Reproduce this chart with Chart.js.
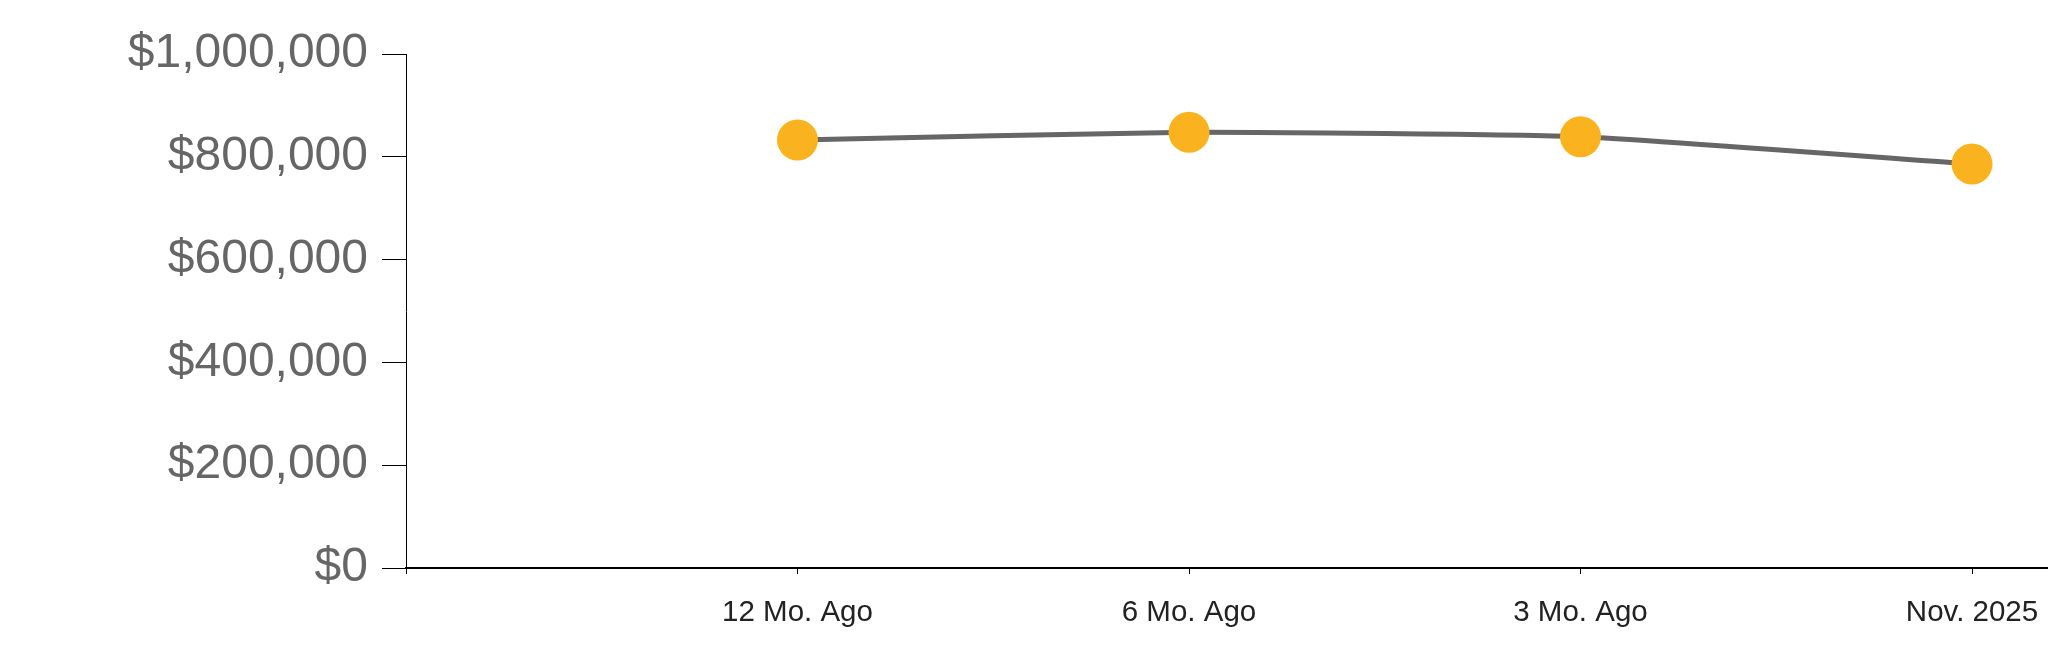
<!DOCTYPE html>
<html>
<head>
<meta charset="utf-8">
<script src="https://cdn.jsdelivr.net/npm/chart.js@4/dist/chart.umd.min.js"></script>
<style>
  html, body { margin: 0; padding: 0; background: #fff; overflow: hidden; }
  #wrap { width: 2048px; height: 663px; }
</style>
</head>
<body>
<div id="wrap"><canvas id="chart" width="2048" height="663"></canvas></div>
<script>
// categories (first slot is the empty one sitting on the y axis)
const categories = ['', '12 Mo. Ago', '6 Mo. Ago', '3 Mo. Ago', 'Nov. 2025'];
const values = [null, 832700, 847700, 839100, 786000];
const yTicks = [0, 200000, 400000, 600000, 800000, 1000000];

const points = values.map((v, i) => ({ x: i, y: v }));

const ctx = document.getElementById('chart').getContext('2d');
new Chart(ctx, {
    type: 'line',
    data: {
        datasets: [{
            data: points,
            borderColor: '#666666',
            borderWidth: 5,
            tension: 0.15,
            pointRadius: 20.5,
            pointHoverRadius: 20.5,
            pointBackgroundColor: '#FAB31E',
            pointBorderWidth: 0,
            spanGaps: false,
            clip: false
        }]
    },
    options: {
        responsive: false,
        animation: false,
        layout: { autoPadding: false, padding: { top: 54, right: 0, bottom: 0, left: 0 } },
        plugins: {
            legend: { display: false },
            tooltip: { enabled: false }
        },
        scales: {
            x: {
                type: 'linear',
                min: 0,
                max: 4 + 76 / 391.5,
                border: { color: '#000', width: 2 },
                grid: { drawOnChartArea: false, drawTicks: true, tickLength: 6, color: '#000' },
                ticks: {
                    stepSize: 1,
                    includeBounds: false,
                    padding: 21,
                    color: '#222',
                    font: { family: 'Liberation Sans, Arial', size: 29.5 },
                    maxRotation: 0,
                    autoSkip: false,
                    callback: (v) => Number.isInteger(v) ? (categories[v] || '') : ''
                },
                afterFit: (s) => { s.height = 95; s.paddingLeft = 0; s.paddingRight = 0; }
            },
            y: {
                min: 0,
                max: 1000000,
                border: { color: '#000', width: 1 },
                grid: { drawOnChartArea: false, drawTicks: true, tickLength: 24, color: '#000' },
                afterBuildTicks: (s) => { s.ticks = yTicks.map(v => ({ value: v })); },
                ticks: {
                    padding: 14,
                    color: '#666',
                    font: { family: 'Liberation Sans, Arial', size: 48 },
                    callback: (v) => '$' + v.toLocaleString('en-US')
                },
                afterFit: (s) => { s.width = 406; }
            }
        }
    }
});
</script>
</body>
</html>
